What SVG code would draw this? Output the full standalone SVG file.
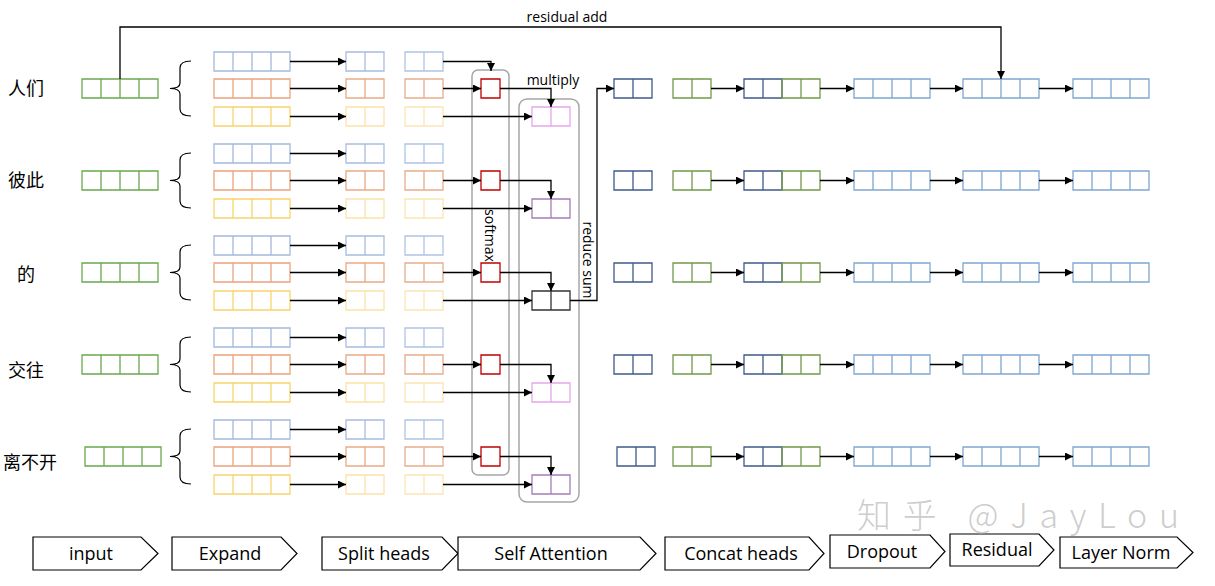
<svg xmlns="http://www.w3.org/2000/svg" xmlns:xlink="http://www.w3.org/1999/xlink" width="1215" height="586" viewBox="0 0 1215 586">
<style>
text{font-family:"Open Sans","Noto Sans","Liberation Sans",sans-serif;fill:#000}
.cjk{font-family:"Noto Sans CJK SC","Noto Sans",sans-serif;font-size:18px}
.lbl{font-size:18px;text-anchor:middle}
.sm{font-size:14px;text-anchor:middle}
use,rect.cell{stroke-width:1.3}
.gin{stroke:#6aa84f}
.eb{stroke:#a4b8dc}.eo{stroke:#eba27c}.ey{stroke:#f6d46a}
.s1b{stroke:#a9bde0}.s1o{stroke:#eaa985}.s1y{stroke:#fbe4a8}
.s2b{stroke:#b0c4e4}.s2o{stroke:#e6ad8c}.s2y{stroke:#fbe6b4}
.red{stroke:#c00000}
.pk{stroke:#e6a6ec}.pu{stroke:#a67db8}.bk{stroke:#333333}
.db{stroke:#3f5a8a}.gc{stroke:#72994a}.lb{stroke:#7fa7cf}
.frame{fill:none;stroke:#a6a6a6;stroke-width:1.5}
.brace{fill:none;stroke:#000;stroke-width:1.2}
#connectors path{fill:none;stroke:#000;stroke-width:1.3}
.step{fill:#fff;stroke:#000;stroke-width:1.2}
</style>
<defs>
<path id="c4" d="M0,0h76v19h-76z M19,0v19 M38,0v19 M57,0v19" fill="none"/>
<path id="c2" d="M0,0h38v19h-38z M19,0v19" fill="none"/>
<path id="c1" d="M0,0h19v19h-19z" fill="none"/>
<marker id="ah" viewBox="0 0 10 10" refX="10" refY="5" markerUnits="userSpaceOnUse" markerWidth="9" markerHeight="8" orient="auto">
<path d="M0,0L10,5L0,10z" fill="#000"/>
</marker>
</defs>
<rect width="1215" height="586" fill="#fff"/>

<!-- frames -->
<g id="softmax-frame">
<rect class="frame" x="472" y="70" width="37" height="405" rx="6"/>
<text transform="translate(485,235.5) rotate(90)" class="sm">softmax</text>
</g>
<g id="multiply-frame">
<rect class="frame" x="519" y="99" width="60" height="403" rx="8"/>
<text x="553" y="85" class="sm">multiply</text>
</g>
<g id="reduce-sum-label">
<text transform="translate(583,260) rotate(90)" class="sm">reduce sum</text>
</g>

<!-- group 1 -->
<g id="token-renmen">
<text x="8" y="95" class="cjk">人们</text>
<use href="#c4" x="82" y="79" class="gin"/>
<path class="brace" d="M191,61 Q180,61 180,68 L180,83 Q180,88.5 170,88.5 Q180,88.5 180,94 L180,109 Q180,116 191,116"/>
<use href="#c4" x="214" y="52" class="eb"/>
<use href="#c4" x="214" y="79" class="eo"/>
<use href="#c4" x="214" y="107" class="ey"/>
<use href="#c2" x="346" y="52" class="s1b"/>
<use href="#c2" x="346" y="79" class="s1o"/>
<use href="#c2" x="346" y="107" class="s1y"/>
<use href="#c2" x="405" y="52" class="s2b"/>
<use href="#c2" x="405" y="79" class="s2o"/>
<use href="#c2" x="405" y="107" class="s2y"/>
<use href="#c1" x="481" y="79" class="red"/>
<use href="#c2" x="532" y="107" class="pk"/>
<use href="#c2" x="614" y="79" class="db"/>
<use href="#c2" x="673" y="79" class="gc"/>
<use href="#c2" x="744" y="79" class="db"/>
<use href="#c2" x="782" y="79" class="gc"/>
<use href="#c4" x="854" y="79" class="lb"/>
<use href="#c4" x="963" y="79" class="lb"/>
<use href="#c4" x="1073" y="79" class="lb"/>
</g>

<!-- group 2 -->
<g id="token-bici">
<text x="8" y="187" class="cjk">彼此</text>
<use href="#c4" x="82" y="171" class="gin"/>
<path class="brace" d="M191,153 Q180,153 180,160 L180,175 Q180,180.5 170,180.5 Q180,180.5 180,186 L180,201 Q180,208 191,208"/>
<use href="#c4" x="214" y="144" class="eb"/>
<use href="#c4" x="214" y="171" class="eo"/>
<use href="#c4" x="214" y="199" class="ey"/>
<use href="#c2" x="346" y="144" class="s1b"/>
<use href="#c2" x="346" y="171" class="s1o"/>
<use href="#c2" x="346" y="199" class="s1y"/>
<use href="#c2" x="405" y="144" class="s2b"/>
<use href="#c2" x="405" y="171" class="s2o"/>
<use href="#c2" x="405" y="199" class="s2y"/>
<use href="#c1" x="481" y="171" class="red"/>
<use href="#c2" x="532" y="199" class="pu"/>
<use href="#c2" x="614" y="171" class="db"/>
<use href="#c2" x="673" y="171" class="gc"/>
<use href="#c2" x="744" y="171" class="db"/>
<use href="#c2" x="782" y="171" class="gc"/>
<use href="#c4" x="854" y="171" class="lb"/>
<use href="#c4" x="963" y="171" class="lb"/>
<use href="#c4" x="1073" y="171" class="lb"/>
</g>

<!-- group 3 -->
<g id="token-de">
<text x="17" y="281" class="cjk">的</text>
<use href="#c4" x="82" y="263" class="gin"/>
<path class="brace" d="M191,245 Q180,245 180,252 L180,267 Q180,272.5 170,272.5 Q180,272.5 180,278 L180,293 Q180,300 191,300"/>
<use href="#c4" x="214" y="236" class="eb"/>
<use href="#c4" x="214" y="263" class="eo"/>
<use href="#c4" x="214" y="291" class="ey"/>
<use href="#c2" x="346" y="236" class="s1b"/>
<use href="#c2" x="346" y="263" class="s1o"/>
<use href="#c2" x="346" y="291" class="s1y"/>
<use href="#c2" x="405" y="236" class="s2b"/>
<use href="#c2" x="405" y="263" class="s2o"/>
<use href="#c2" x="405" y="291" class="s2y"/>
<use href="#c1" x="481" y="263" class="red"/>
<use href="#c2" x="532" y="291" class="bk"/>
<use href="#c2" x="614" y="263" class="db"/>
<use href="#c2" x="673" y="263" class="gc"/>
<use href="#c2" x="744" y="263" class="db"/>
<use href="#c2" x="782" y="263" class="gc"/>
<use href="#c4" x="854" y="263" class="lb"/>
<use href="#c4" x="963" y="263" class="lb"/>
<use href="#c4" x="1073" y="263" class="lb"/>
</g>

<!-- group 4 -->
<g id="token-jiaowang">
<text x="8" y="377" class="cjk">交往</text>
<use href="#c4" x="82" y="355" class="gin"/>
<path class="brace" d="M191,337 Q180,337 180,344 L180,359 Q180,364.5 170,364.5 Q180,364.5 180,370 L180,385 Q180,392 191,392"/>
<use href="#c4" x="214" y="328" class="eb"/>
<use href="#c4" x="214" y="355" class="eo"/>
<use href="#c4" x="214" y="383" class="ey"/>
<use href="#c2" x="346" y="328" class="s1b"/>
<use href="#c2" x="346" y="355" class="s1o"/>
<use href="#c2" x="346" y="383" class="s1y"/>
<use href="#c2" x="405" y="328" class="s2b"/>
<use href="#c2" x="405" y="355" class="s2o"/>
<use href="#c2" x="405" y="383" class="s2y"/>
<use href="#c1" x="481" y="355" class="red"/>
<use href="#c2" x="532" y="383" class="pk"/>
<use href="#c2" x="614" y="355" class="db"/>
<use href="#c2" x="673" y="355" class="gc"/>
<use href="#c2" x="744" y="355" class="db"/>
<use href="#c2" x="782" y="355" class="gc"/>
<use href="#c4" x="854" y="355" class="lb"/>
<use href="#c4" x="963" y="355" class="lb"/>
<use href="#c4" x="1073" y="355" class="lb"/>
</g>

<!-- group 5 -->
<g id="token-libukai">
<text x="3" y="469" class="cjk">离不开</text>
<use href="#c4" x="85" y="447" class="gin"/>
<path class="brace" d="M191,429 Q180,429 180,436 L180,451 Q180,456.5 170,456.5 Q180,456.5 180,462 L180,477 Q180,484 191,484"/>
<use href="#c4" x="214" y="420" class="eb"/>
<use href="#c4" x="214" y="447" class="eo"/>
<use href="#c4" x="214" y="475" class="ey"/>
<use href="#c2" x="346" y="420" class="s1b"/>
<use href="#c2" x="346" y="447" class="s1o"/>
<use href="#c2" x="346" y="475" class="s1y"/>
<use href="#c2" x="405" y="420" class="s2b"/>
<use href="#c2" x="405" y="447" class="s2o"/>
<use href="#c2" x="405" y="475" class="s2y"/>
<use href="#c1" x="481" y="447" class="red"/>
<use href="#c2" x="532" y="475" class="pu"/>
<use href="#c2" x="617" y="447" class="db"/>
<use href="#c2" x="673" y="447" class="gc"/>
<use href="#c2" x="744" y="447" class="db"/>
<use href="#c2" x="782" y="447" class="gc"/>
<use href="#c4" x="854" y="447" class="lb"/>
<use href="#c4" x="963" y="447" class="lb"/>
<use href="#c4" x="1073" y="447" class="lb"/>
</g>

<g id="connectors">
<!-- residual add -->
<path d="M120,79V27H1001V79" marker-end="url(#ah)"/>
<!-- group 1 -->
<path d="M290,61.5H346" marker-end="url(#ah)"/>
<path d="M290,88.5H346" marker-end="url(#ah)"/>
<path d="M290,116.5H346" marker-end="url(#ah)"/>
<path d="M443,61.5H491V71" marker-end="url(#ah)"/>
<path d="M443,88.5H481" marker-end="url(#ah)"/>
<path d="M443,116.5H532" marker-end="url(#ah)"/>
<path d="M500,88.5H551V107" marker-end="url(#ah)"/>
<path d="M711,88.5H744" marker-end="url(#ah)"/>
<path d="M820,88.5H854" marker-end="url(#ah)"/>
<path d="M930,88.5H963" marker-end="url(#ah)"/>
<path d="M1039,88.5H1073" marker-end="url(#ah)"/>
<!-- group 2 -->
<path d="M290,153.5H346" marker-end="url(#ah)"/>
<path d="M290,180.5H346" marker-end="url(#ah)"/>
<path d="M290,208.5H346" marker-end="url(#ah)"/>
<path d="M443,180.5H481" marker-end="url(#ah)"/>
<path d="M443,208.5H532" marker-end="url(#ah)"/>
<path d="M500,180.5H551V199" marker-end="url(#ah)"/>
<path d="M711,180.5H744" marker-end="url(#ah)"/>
<path d="M820,180.5H854" marker-end="url(#ah)"/>
<path d="M930,180.5H963" marker-end="url(#ah)"/>
<path d="M1039,180.5H1073" marker-end="url(#ah)"/>
<!-- group 3 -->
<path d="M290,245.5H346" marker-end="url(#ah)"/>
<path d="M290,272.5H346" marker-end="url(#ah)"/>
<path d="M290,300.5H346" marker-end="url(#ah)"/>
<path d="M443,272.5H481" marker-end="url(#ah)"/>
<path d="M443,300.5H532" marker-end="url(#ah)"/>
<path d="M500,272.5H551V291" marker-end="url(#ah)"/>
<path d="M711,272.5H744" marker-end="url(#ah)"/>
<path d="M820,272.5H854" marker-end="url(#ah)"/>
<path d="M930,272.5H963" marker-end="url(#ah)"/>
<path d="M1039,272.5H1073" marker-end="url(#ah)"/>
<!-- reduce sum -->
<path d="M570,300.5H597V88.5H614" marker-end="url(#ah)"/>
<!-- group 4 -->
<path d="M290,337.5H346" marker-end="url(#ah)"/>
<path d="M290,364.5H346" marker-end="url(#ah)"/>
<path d="M290,392.5H346" marker-end="url(#ah)"/>
<path d="M443,364.5H481" marker-end="url(#ah)"/>
<path d="M443,392.5H532" marker-end="url(#ah)"/>
<path d="M500,364.5H551V383" marker-end="url(#ah)"/>
<path d="M711,364.5H744" marker-end="url(#ah)"/>
<path d="M820,364.5H854" marker-end="url(#ah)"/>
<path d="M930,364.5H963" marker-end="url(#ah)"/>
<path d="M1039,364.5H1073" marker-end="url(#ah)"/>
<!-- group 5 -->
<path d="M290,429.5H346" marker-end="url(#ah)"/>
<path d="M290,456.5H346" marker-end="url(#ah)"/>
<path d="M290,484.5H346" marker-end="url(#ah)"/>
<path d="M443,456.5H481" marker-end="url(#ah)"/>
<path d="M443,484.5H532" marker-end="url(#ah)"/>
<path d="M500,456.5H551V475" marker-end="url(#ah)"/>
<path d="M711,456.5H744" marker-end="url(#ah)"/>
<path d="M820,456.5H854" marker-end="url(#ah)"/>
<path d="M930,456.5H963" marker-end="url(#ah)"/>
<path d="M1039,456.5H1073" marker-end="url(#ah)"/>
</g>
<g id="residual-add-label">
<text x="567" y="22" class="sm">residual add</text>
</g>

<g id="stages">
<g id="stage-input"><polygon class="step" points="33,537 141,537 158,553.5 141,570 33,570"/><text x="91" y="560" class="lbl">input</text></g>
<g id="stage-expand"><polygon class="step" points="172,537 281,537 297,553.5 281,570 172,570"/><text x="230" y="560" class="lbl">Expand</text></g>
<g id="stage-split"><polygon class="step" points="322,537 442,537 458,553.5 442,570 322,570"/><text x="384" y="560" class="lbl">Split heads</text></g>
<g id="stage-attn"><polygon class="step" points="458,537 640,537 656,553.5 640,570 458,570"/><text x="551" y="560" class="lbl">Self Attention</text></g>
<g id="stage-concat"><polygon class="step" points="665,537 809,537 824,553.5 809,570 665,570"/><text x="741" y="560" class="lbl">Concat heads</text></g>
<g id="stage-dropout"><polygon class="step" points="830,535 930,535 945,551.5 930,568 830,568"/><text x="882" y="558" class="lbl">Dropout</text></g>
<g id="stage-residual"><polygon class="step" points="950,534 1039,534 1054,550 1039,566 950,566"/><text x="997" y="556" class="lbl">Residual</text></g>
<g id="stage-layernorm"><polygon class="step" points="1060,537 1177,537 1193,552.5 1177,568 1060,568"/><text x="1121" y="559" class="lbl">Layer Norm</text></g>
</g>

<text x="857" y="528" font-size="34" textLength="322" lengthAdjust="spacing" style="font-family:'Noto Sans CJK SC','Noto Sans',sans-serif;font-weight:300;fill:#bdbdbd;fill-opacity:0.75">知乎 @JayLou</text>
</svg>
